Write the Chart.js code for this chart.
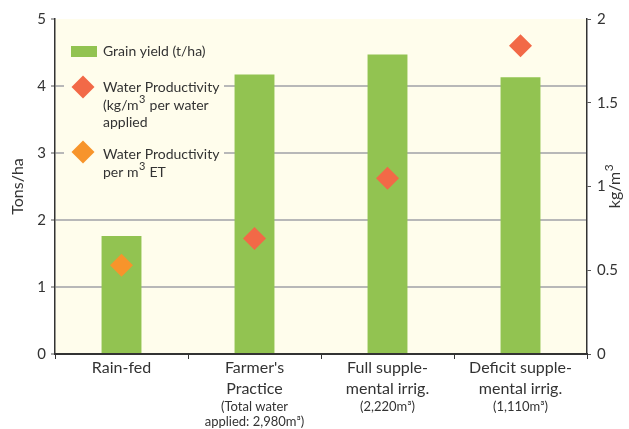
<!DOCTYPE html>
<html>
<head>
<meta charset="utf-8">
<script src="https://cdn.jsdelivr.net/npm/chart.js@4.4.1/dist/chart.umd.min.js"></script>
<style>
  html, body { margin: 0; padding: 0; background: #ffffff; }
  #wrap { width: 629px; height: 429px; position: relative; }
</style>
</head>
<body>
<div id="wrap"><canvas id="chart"></canvas></div>
<script>
// data
const categories = ['Rain-fed', "Farmer's Practice", 'Full supplemental irrig.', 'Deficit supplemental irrig.'];
const grainYield = [1.76, 4.17, 4.47, 4.13];            // t/ha, left axis
const wpApplied = [null, 0.69, 1.05, 1.84];              // kg/m3 per water applied, right axis
const wpET = [0.53, null, null, null];                    // kg/m3 per m3 ET, right axis
// label lines under each category: [big lines, small lines]
const xLabelLines = [
    [['Rain-fed'], []],
    [["Farmer's", 'Practice'], ['(Total water', 'applied: 2,980m\u00B3)']],
    [['Full supple-', 'mental irrig.'], ['(2,220m\u00B3)']],
    [['Deficit supple-', 'mental irrig.'], ['(1,110m\u00B3)']]
];

const GREEN = '#92c351';
const RED = '#f26947';
const ORANGE = '#f7942b';
const CREAM = '#fffdec';
const TEXT = '#333333';
const FONT = 'Lato, "Noto Sans", sans-serif';

// text with a raised "3": parts = [before, sup, after]
function supText(ctx, parts, x, y, size, align) {
    const big = size + 'px ' + FONT;
    const small = Math.round(size * 0.75) + 'px ' + FONT;
    ctx.font = big;
    const w1 = ctx.measureText(parts[0]).width;
    const w3 = ctx.measureText(parts[2]).width;
    ctx.font = small;
    const w2 = ctx.measureText(parts[1]).width;
    let x0 = x;
    if (align === 'center') x0 = x - (w1 + w2 + w3) / 2;
    ctx.textAlign = 'left';
    ctx.font = big;
    ctx.fillText(parts[0], x0, y);
    ctx.font = small;
    ctx.fillText(parts[1], x0 + w1 + 0.5, y - size * 0.38);
    ctx.font = big;
    ctx.fillText(parts[2], x0 + w1 + w2 + 1, y);
}

// custom drawing: plot background, legend, axis titles, x labels
const decor = {
    id: 'decor',
    beforeDraw(chart) {
        const a = chart.chartArea, ctx = chart.ctx;
        ctx.save();
        ctx.fillStyle = CREAM;
        ctx.fillRect(a.left, a.top, a.right - a.left, a.bottom - a.top);
        ctx.restore();
    },
    afterDatasetsDraw(chart) {
        const ctx = chart.ctx;
        ctx.save();
        // legend box covers the grid lines
        ctx.fillStyle = CREAM;
        ctx.fillRect(64, 30, 160, 152);

        ctx.fillStyle = GREEN;
        ctx.fillRect(71, 46, 26, 11);

        function diamond(x, y, r, c) {
            ctx.fillStyle = c;
            ctx.beginPath();
            ctx.moveTo(x, y - r);
            ctx.lineTo(x + r, y);
            ctx.lineTo(x, y + r);
            ctx.lineTo(x - r, y);
            ctx.closePath();
            ctx.fill();
        }
        diamond(83, 87, 11.5, RED);
        diamond(83, 152, 11.5, ORANGE);

        ctx.fillStyle = TEXT;
        ctx.font = '14px ' + FONT;
        ctx.textAlign = 'left';
        ctx.textBaseline = 'middle';
        ctx.fillText('Grain yield (t/ha)', 103, 51);
        ctx.fillText('Water Productivity', 103, 87);
        supText(ctx, ['(kg/m', '3', ' per water'], 103, 105, 14, 'left');
        ctx.fillText('applied', 103, 122);
        ctx.fillText('Water Productivity', 103, 154);
        supText(ctx, ['per m', '3', ' ET'], 103, 172, 14, 'left');
        ctx.restore();
    },
    afterDraw(chart) {
        const ctx = chart.ctx;
        const x = chart.scales.x;
        const a = chart.chartArea;
        ctx.save();
        ctx.fillStyle = TEXT;
        ctx.textAlign = 'center';
        ctx.textBaseline = 'middle';
        xLabelLines.forEach(function (lines, i) {
            const cx = x.getPixelForValue(i);
            let y = 368;
            ctx.font = '16px ' + FONT;
            lines[0].forEach(function (t) { ctx.fillText(t, cx, y); y += 21; });
            y -= 3;
            ctx.font = '13px ' + FONT;
            lines[1].forEach(function (t) { ctx.fillText(t, cx, y); y += 15; });
        });

        // axis titles, both read bottom to top
        ctx.font = '16px ' + FONT;
        ctx.translate(18, (a.top + a.bottom) / 2);
        ctx.rotate(-Math.PI / 2);
        ctx.fillText('Tons/ha', 0, 0);
        ctx.setTransform(1, 0, 0, 1, 0, 0);
        ctx.translate(615, (a.top + a.bottom) / 2);
        ctx.rotate(-Math.PI / 2);
        supText(ctx, ['kg/m', '3', ''], 0, 0, 16, 'center');
        ctx.restore();
    }
};

const ctx = document.getElementById('chart').getContext('2d');
new Chart(ctx, {
    data: {
        labels: categories,
        datasets: [
            {
                type: 'line',
                label: 'Water Productivity (kg/m3 per water applied)',
                data: wpApplied,
                yAxisID: 'y1',
                showLine: false,
                pointStyle: 'rectRot',
                pointRadius: 11.5,
                pointBackgroundColor: RED,
                pointBorderWidth: 0,
                order: 0
            },
            {
                type: 'line',
                label: 'Water Productivity per m3 ET',
                data: wpET,
                yAxisID: 'y1',
                showLine: false,
                pointStyle: 'rectRot',
                pointRadius: 11.5,
                pointBackgroundColor: ORANGE,
                pointBorderWidth: 0,
                order: 0
            },
            {
                type: 'bar',
                label: 'Grain yield (t/ha)',
                data: grainYield,
                yAxisID: 'y',
                backgroundColor: GREEN,
                barPercentage: 1,
                categoryPercentage: 0.3,
                order: 1
            }
        ]
    },
    options: {
        responsive: true,
        maintainAspectRatio: false,
        animation: false,
        layout: { padding: { top: 19, left: 0, right: 0, bottom: 0 } },
        plugins: {
            legend: { display: false },
            tooltip: { enabled: false }
        },
        scales: {
            x: {
                offset: true,
                ticks: { display: false },
                grid: {
                    offset: true,
                    drawOnChartArea: false,
                    drawTicks: true,
                    tickLength: 5,
                    tickColor: '#333333',
                    color: '#333333'
                },
                border: { display: true, color: '#333333', width: 2 },
                afterFit: function (scale) { scale.height = 75; }
            },
            y: {
                position: 'left',
                min: 0,
                max: 5,
                ticks: { stepSize: 1, color: TEXT, font: { family: FONT, size: 15 }, padding: 5 },
                grid: {
                    color: function (c) { return (c.tick && (c.tick.value === 5 || c.tick.value === 0)) ? 'rgba(0,0,0,0)' : '#b8b8b8'; },
                    lineWidth: 2,
                    tickLength: 4,
                    tickColor: '#555555',
                    tickWidth: 1
                },
                border: { display: true, color: '#333333', width: 1.5 },
                afterFit: function (scale) { scale.width = 55; }
            },
            y1: {
                position: 'right',
                min: 0,
                max: 2,
                ticks: {
                    stepSize: 0.5, color: TEXT, font: { family: FONT, size: 15 }, padding: 6,
                    callback: function (v) { return String(v); }
                },
                grid: {
                    drawOnChartArea: false,
                    tickLength: 4,
                    tickColor: '#555555',
                    tickWidth: 1
                },
                border: { display: true, color: '#333333', width: 1.5 },
                afterFit: function (scale) { scale.width = 42; }
            }
        }
    },
    plugins: [decor]
});
</script>
</body>
</html>
